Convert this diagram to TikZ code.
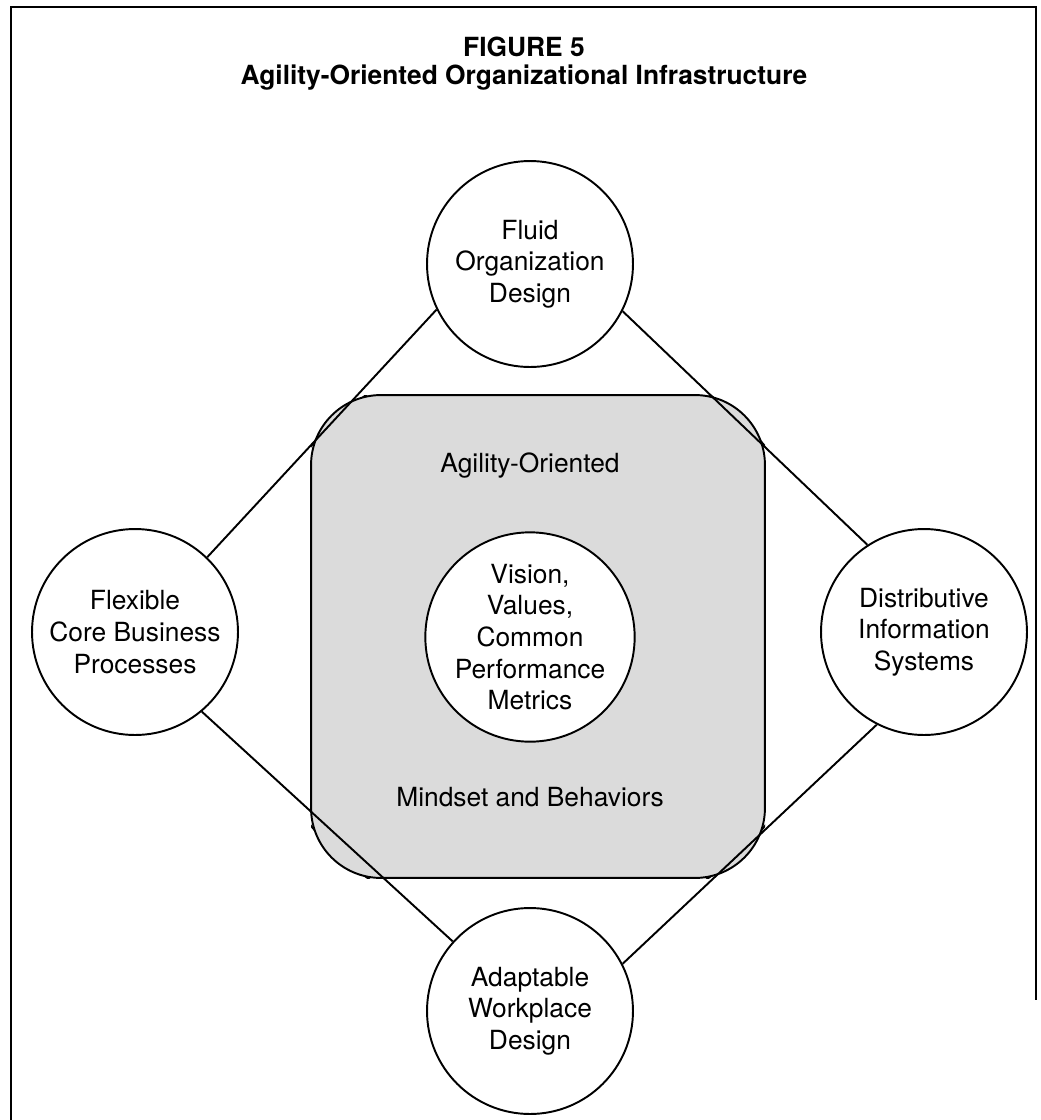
\documentclass[tikz,border=0pt]{standalone}
\usepackage{fontspec}
\setmainfont{TeX Gyre Heros}
\definecolor{boxgray}{gray}{0.86}
\tikzset{
  bubble/.style={circle,draw,line width=1.1pt,fill=white,minimum size=4.12cm,
    inner sep=0pt,align=center,font=\fontsize{15}{18}\selectfont},
  plaintext/.style={font=\fontsize{15}{18}\selectfont},
  link/.style={line width=1.1pt}
}
\begin{document}
\begin{tikzpicture}[x=0.02cm,y=-0.02cm]
    \useasboundingbox (0,0) rectangle (1041,1120);
    \draw[line width=1.4pt] (11,1120) -- (11,7) -- (1036,7) -- (1036,1000);
    \node[font=\bfseries\fontsize{15}{16}\selectfont,align=center] (title) at (524,64)
        {FIGURE 5\\Agility-Oriented Organizational Infrastructure};

    % outer circle, only seen at the corners of the box
    \begin{scope}
        \clip (311,395) rectangle (765,878);
        \draw[link] (538,636) circle[radius=5.92cm];
    \end{scope}
    \node[draw,line width=1.1pt,fill=boxgray,rounded corners=1.4cm,
        minimum width=9.08cm,minimum height=9.66cm] (mindset) at (538,636.5) {};
    \node[plaintext] (agile) at (530,466) {Agility-Oriented};
    \node[plaintext] (behav) at (530,797) {Mindset and Behaviors};

    \node[bubble] (vision) at (530,637) {Vision,\\Values,\\Common\\Performance\\Metrics};
    \node[bubble] (fluid) at (530,264) {Fluid\\Organization\\Design};
    \node[bubble] (flex) at (135,632) {Flexible\\Core Business\\Processes};
    \node[bubble] (dist) at (924,632) {Distributive\\Information\\Systems};
    \node[bubble] (adapt) at (530,1011) {Adaptable\\Workplace\\Design};

    \draw[link] (fluid.206) -- (flex.46);
    \draw[link] (fluid.333) -- (dist.123);
    \draw[link] (flex.310) -- (adapt.138);
    \draw[link] (dist.243) -- (adapt.27);
\end{tikzpicture}
\end{document}
